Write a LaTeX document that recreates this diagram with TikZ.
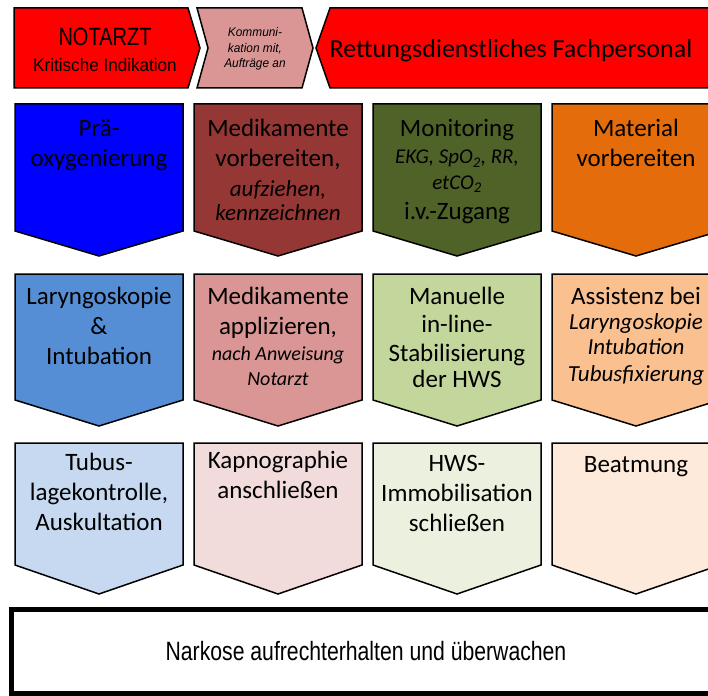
\documentclass[tikz,border=0pt]{standalone}
\usepackage{fontspec}
\setmainfont{Carlito}
\newfontfamily\arialfont[FakeStretch=0.95]{Liberation Sans}
\newfontfamily\arialnarrow[FakeStretch=0.8]{Liberation Sans}
\usepackage{tikz}
\usetikzlibrary{positioning}

\definecolor{redtop}{HTML}{FF0000}
\definecolor{pinkcom}{HTML}{D99694}
\definecolor{col11}{HTML}{0000FF}
\definecolor{col12}{HTML}{953735}
\definecolor{col13}{HTML}{4F6228}
\definecolor{col14}{HTML}{E46C0A}
\definecolor{col21}{HTML}{558ED5}
\definecolor{col22}{HTML}{D99694}
\definecolor{col23}{HTML}{C3D69B}
\definecolor{col24}{HTML}{FAC090}
\definecolor{col31}{HTML}{C6D9F1}
\definecolor{col32}{HTML}{F2DCDB}
\definecolor{col33}{HTML}{EBF1DE}
\definecolor{col34}{HTML}{FDEADA}

\newcommand{\smit}[2][21]{{\fontsize{#1}{24}\selectfont\itshape #2}}

\tikzset{
  chev/.style={draw=black, line width=1.5pt, line join=miter},
  steptext/.style={anchor=base, align=flush center, text width=166pt, inner sep=0pt,
    font=\fontsize{25}{30}\selectfont},
  headtext/.style={anchor=base, align=flush center, inner sep=0pt},
}

\begin{document}
\begin{tikzpicture}[x=1pt, y=-1pt]
    \useasboundingbox (0,0) rectangle (708,695);
    \clip (0,0) rectangle (708,695);

    % top row
    \draw[chev, fill=redtop] (14,8) -- (188,8) -- (200,48) -- (188,88) -- (14,88) -- cycle;
    \draw[chev, fill=pinkcom] (197,8) -- (302,8) -- (313,48) -- (302,88) -- (197,88) -- (208,48) -- cycle;
    \draw[chev, fill=redtop] (330,8) -- (720,8) -- (720,88) -- (330,88) -- (316,48) -- cycle;

    \node[headtext, font=\arialnarrow\fontsize{25}{27}\selectfont] (notarzt) at (105,46) {NOTARZT};
    \node[headtext, font=\arialfont\fontsize{18}{20}\selectfont] (indikation) at (105,72) {Kritische Indikation};
    \node[headtext, text width=80pt, font=\arialfont\itshape\fontsize{12.5}{15.5}\selectfont] (komm) at (255,37) {Kommuni-\\kation mit,\\Aufträge an};
    \node[headtext, font=\fontsize{26}{30}\selectfont] (fachpersonal) at (511,58) {Rettungsdienstliches Fachpersonal};

    % step arrows
    \foreach \r/\top/\side/\tip in {1/104/231/256, 2/274/400/426, 3/443/565/594} {
        \foreach \c in {1,...,4} {
            \pgfmathsetmacro{\xl}{15+(\c-1)*179}
            \draw[chev, fill=col\r\c] (\xl,\top) -- ++(168,0) -- (\xl+168,\side) -- (\xl+84,\tip) -- (\xl,\side) -- cycle;
        }
    }

    \node[steptext] (praeox) at (99,136) {Prä-\\oxygenierung};
    \node[steptext] (medvor) at (278,136) {Medikamente\\vorbereiten,\\\smit[23]{aufziehen,}\\[-6pt]\smit[23]{kennzeichnen}};
    \node[steptext] (monitoring) at (457,136) {Monitoring\\[-2pt]\smit{EKG, SpO\textsubscript{2}, RR,}\\[-5pt]\smit{etCO\textsubscript{2}}\\i.v.-Zugang};
    \node[steptext] (material) at (636,136) {Material\\vorbereiten};

    \node[steptext] (laryngo) at (99,304) {Laryngoskopie\\\&\\Intubation};
    \node[steptext] (medappl) at (278,304) {Medikamente\\applizieren,\\[-4pt]\smit[20]{nach Anweisung}\\[-5pt]\smit[20]{Notarzt}};
    \node[steptext] (stabil) at (457,304) {Manuelle\\[-2pt]in-line-\\[-1pt]Stabilisierung\\[-4pt]der HWS};
    \node[steptext] (assistenz) at (636,304) {Assistenz bei\\[-5pt]\smit[23]{Laryngoskopie}\\[-5pt]\smit[23]{Intubation}\\[-3pt]\smit[23]{Tubusfixierung}};

    \node[steptext] (tubuslage) at (99,470) {Tubus-\\lagekontrolle,\\Auskultation};
    \node[steptext] (kapno) at (278,468) {Kapnographie\\anschließen};
    \node[steptext] (hws) at (457,471) {HWS-\\Immobilisation\\schließen};
    \node[steptext] (beatmung) at (636,472) {Beatmung};

    % bottom bar
    \draw[line width=5pt] (11.5,609.5) rectangle (730,693);
    \node[headtext, font=\arialnarrow\fontsize{26.5}{30}\selectfont] (narkose) at (366,660) {Narkose aufrechterhalten und überwachen};
\end{tikzpicture}
\end{document}
